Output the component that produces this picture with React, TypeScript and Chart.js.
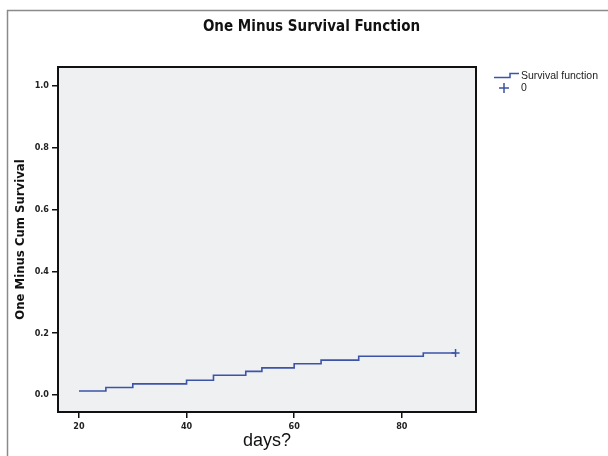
import React, { useEffect, useRef } from "react";
import { Chart, registerables } from "chart.js";

Chart.register(...registerables);

const stepDays = [20, 25, 30, 40, 45, 51, 54, 60, 65, 72, 84, 90];
const oneMinusSurvival = [0.0128, 0.0245, 0.036, 0.048, 0.064, 0.0766, 0.088, 0.101, 0.113, 0.1255, 0.136, 0.136];
const censoredDays = [90];
const censoredValues = [0.136];
const xTickValues = [20, 40, 60, 80];
const yTickValues = [0, 0.2, 0.4, 0.6, 0.8, 1.0];
const titleText = "One Minus Survival Function";
const xTitle = "days?";
const yTitle = "One Minus Cum Survival";
const legendLabels = ["Survival function", "0"];

const BLUE = "#3c53a6";
const NARROW = "'Liberation Sans Narrow', 'DejaVu Sans Condensed', 'Liberation Sans', sans-serif";

const decorPlugin = {
  id: "decor",
  beforeDraw(chart: any) {
    const { ctx, chartArea } = chart;
    ctx.save();
    ctx.fillStyle = "#ffffff";
    ctx.fillRect(0, 0, chart.width, chart.height);
    ctx.strokeStyle = "#8a8a8a";
    ctx.lineWidth = 1.5;
    ctx.beginPath();
    ctx.moveTo(7.5, chart.height + 2);
    ctx.lineTo(7.5, 10.5);
    ctx.lineTo(chart.width + 2, 10.5);
    ctx.stroke();
    ctx.fillStyle = "#eef0f2";
    ctx.fillRect(chartArea.left, chartArea.top, chartArea.right - chartArea.left, chartArea.bottom - chartArea.top);
    ctx.restore();
  },
  afterDraw(chart: any) {
    const { ctx, chartArea } = chart;
    ctx.save();
    ctx.strokeStyle = "#111111";
    ctx.lineWidth = 2;
    ctx.strokeRect(chartArea.left, chartArea.top, chartArea.right - chartArea.left, chartArea.bottom - chartArea.top);
    ctx.strokeStyle = BLUE;
    ctx.lineWidth = 1.5;
    ctx.beginPath();
    ctx.moveTo(494, 77.5);
    ctx.lineTo(510, 77.5);
    ctx.lineTo(510, 73.5);
    ctx.lineTo(519, 73.5);
    ctx.stroke();
    ctx.beginPath();
    ctx.moveTo(499, 88);
    ctx.lineTo(509, 88);
    ctx.moveTo(504, 83);
    ctx.lineTo(504, 93);
    ctx.stroke();
    ctx.fillStyle = "#222222";
    ctx.font = "10.5px 'Liberation Sans', Arial, sans-serif";
    ctx.textBaseline = "middle";
    ctx.textAlign = "left";
    ctx.fillText(legendLabels[0], 521, 76);
    ctx.fillText(legendLabels[1], 521, 88.5);
    ctx.restore();
  },
};

export default function App() {
  const ref = useRef<HTMLCanvasElement | null>(null);
  useEffect(() => {
    if (!ref.current) return;
    const chart = new Chart(ref.current, {
      type: "line",
      data: {
        datasets: [
          {
            label: legendLabels[0],
            data: stepDays.map((d, i) => ({ x: d, y: oneMinusSurvival[i] })),
            stepped: "before",
            borderColor: BLUE,
            borderWidth: 1.6,
            pointRadius: 0,
            fill: false,
          },
          {
            label: legendLabels[1],
            data: censoredDays.map((d, i) => ({ x: d, y: censoredValues[i] })),
            showLine: false,
            pointStyle: "cross",
            pointRadius: 4,
            borderColor: BLUE,
            borderWidth: 1.5,
          },
        ],
      },
      options: {
        responsive: false,
        animation: false,
        devicePixelRatio: 1,
        layout: { padding: { left: 15, right: 0, top: 0, bottom: 0 } },
        plugins: {
          legend: { display: false },
          tooltip: { enabled: false },
          title: {
            display: true,
            text: titleText,
            color: "#111111",
            font: { family: NARROW, size: 15, weight: "bold" },
            padding: { top: 18, bottom: 31 },
          },
        },
        scales: {
          x: {
            type: "linear",
            min: 16.1,
            max: 93.8,
            afterBuildTicks: (s: any) => {
              s.ticks = xTickValues.map((v) => ({ value: v }));
            },
            afterFit: (s: any) => {
              s.height = 44;
            },
            grid: { drawOnChartArea: false, drawTicks: true, tickLength: 6, color: "#111111", lineWidth: 1.5 },
            border: { display: false },
            ticks: {
              color: "#222222",
              font: { family: NARROW, size: 9, weight: "bold" },
              padding: 3,
              maxRotation: 0,
              callback: (v: any) => String(v),
            },
            title: {
              display: true,
              text: xTitle,
              color: "#111111",
              font: { family: "'Liberation Sans', Arial, sans-serif", size: 18 },
              padding: { top: 0, bottom: 4 },
            },
          },
          y: {
            type: "linear",
            min: -0.055,
            max: 1.062,
            afterBuildTicks: (s: any) => {
              s.ticks = yTickValues.map((v) => ({ value: v }));
            },
            afterFit: (s: any) => {
              s.width = 43;
            },
            grid: { drawOnChartArea: false, drawTicks: true, tickLength: 6, color: "#111111", lineWidth: 1.5 },
            border: { display: false },
            ticks: {
              color: "#222222",
              font: { family: NARROW, size: 9, weight: "bold" },
              padding: 3,
              callback: (v: any) => Number(v).toFixed(1),
            },
            title: {
              display: true,
              text: yTitle,
              color: "#111111",
              font: { family: NARROW, size: 13, weight: "bold", lineHeight: 0.8 },
              padding: { top: 0, bottom: 0 },
            },
          },
          yRight: {
            type: "linear",
            position: "right",
            display: true,
            afterFit: (s: any) => {
              s.width = 132;
            },
            grid: { display: false },
            border: { display: false },
            ticks: { display: false },
          },
        },
      },
      plugins: [decorPlugin],
    });
    return () => chart.destroy();
  }, []);
  return (
    <div style={{ position: "absolute", left: 0, top: 0, width: 608, height: 456 }}>
      <canvas ref={ref} width={608} height={456} style={{ display: "block", width: 608, height: 456 }} />
    </div>
  );
}
